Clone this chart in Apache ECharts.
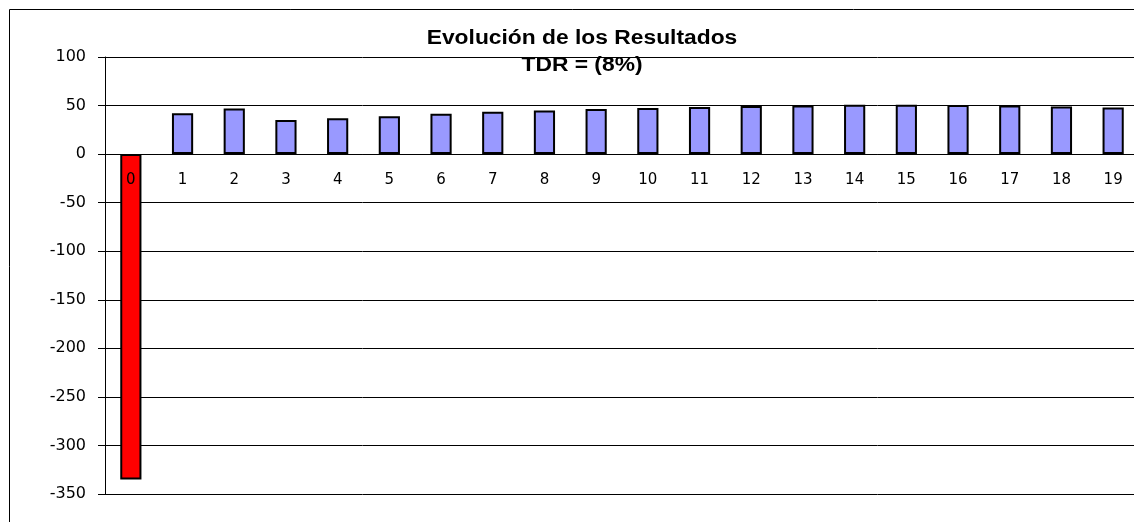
<!DOCTYPE html>
<html><head><meta charset="utf-8">
<script src="https://cdn.jsdelivr.net/npm/echarts@6/dist/echarts.min.js"></script>
<style>html,body{margin:0;padding:0;background:#fff}#c{width:1134px;height:522px}</style>
</head><body><div id="c"></div>
<script>
const categories = ['0','1','2','3','4','5','6','7','8','9','10','11','12','13','14','15','16','17','18','19'];
const values = [-335, 42, 47, 35, 37, 39, 41.5, 43.5, 45, 46.5, 47.5, 48.5, 49.5, 50, 50.8, 50.8, 50.5, 50, 49, 48];
const yTicks = [100, 50, 0, -50, -100, -150, -200, -250, -300, -350];
const titleLine1 = 'Evolución de los Resultados';
const titleLine2 = 'TDR = (8%)';

const yMin = -350, yMax = 100;
const gridTop = 57, gridHeight = 437;
const zeroOffset = -gridHeight * (0 - yMin) / (yMax - yMin);

const titleStyle = {fontFamily: 'Liberation Sans', fontWeight: 'bold', fontSize: 19.5, fill: '#000',
  textAlign: 'center', textVerticalAlign: 'middle'};

const chart = echarts.init(document.getElementById('c'), null, {renderer: 'canvas'});
chart.setOption({
  animation: false,
  backgroundColor: '#fff',
  graphic: [
    {type: 'rect', shape: {x: 9.5, y: 9.5, width: 1200, height: 600},
     style: {fill: 'none', stroke: '#000', lineWidth: 1}, silent: true, z: -1},
    {type: 'text', x: 582, y: 38.5, scaleX: 1.17, z: 10,
     style: Object.assign({text: titleLine1}, titleStyle)},
    {type: 'text', x: 582, y: 66, scaleX: 1.17, z: 10,
     style: Object.assign({text: titleLine2}, titleStyle)}
  ],
  grid: {left: 105, top: gridTop, width: 1034, height: gridHeight, containLabel: false, outerBoundsMode: 'none'},
  xAxis: {
    type: 'category', data: categories, position: 'bottom', offset: zeroOffset, z: 10,
    axisLine: {onZero: false, show: true, lineStyle: {color: '#000', width: 1}},
    axisTick: {show: false},
    axisLabel: {fontFamily: 'DejaVu Sans', fontSize: 15, color: '#000', margin: 18},
    splitLine: {show: false}
  },
  yAxis: {
    type: 'value', min: yMin, max: yMax, interval: 50,
    axisLine: {show: true, lineStyle: {color: '#000', width: 1}},
    axisTick: {show: true, length: 7, lineStyle: {color: '#000'}},
    axisLabel: {fontFamily: 'DejaVu Sans', fontSize: 16, color: '#000', margin: 19,
      formatter: v => yTicks.includes(v) ? String(v) : ''},
    splitLine: {show: true, lineStyle: {color: '#000', width: 1}}
  },
  series: [{
    type: 'bar', data: values.map(v => ({value: v, itemStyle: {color: v < 0 ? '#FF0000' : '#9999FF'}})),
    barWidth: '41%',
    itemStyle: {borderColor: '#000', borderWidth: 2},
    z: 1
  }]
});
</script></body></html>
